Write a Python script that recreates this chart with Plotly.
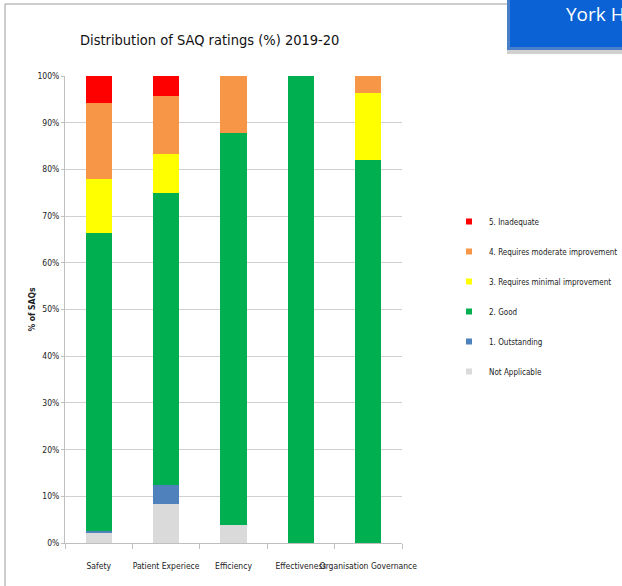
import plotly.graph_objects as go

categories = ["Safety", "Patient Experiece", "Efficiency", "Effectiveness", "Organisation Governance"]
not_applicable = [2.2, 8.3, 3.8, 0, 0]
outstanding = [0.4, 4.2, 0, 0, 0]
good = [63.7, 62.5, 84.1, 100, 82.1]
minimal = [11.7, 8.3, 0, 0, 14.3]
moderate = [16.3, 12.5, 12.1, 0, 3.6]
inadequate = [5.7, 4.2, 0, 0, 0]

series = [
    ("Not Applicable", not_applicable, "#dadada"),
    ("1. Outstanding", outstanding, "#4f81bd"),
    ("2. Good", good, "#00b050"),
    ("3. Requires minimal improvement", minimal, "#ffff00"),
    ("4. Requires moderate improvement", moderate, "#f79646"),
    ("5. Inadequate", inadequate, "#ff0000"),
]
y_ticks = list(range(0, 101, 10))

W, H = 622, 586
L, R, T, B = 65, 220, 76, 43
PW, PH = W - L - R, H - T - B
FONT = "DejaVu Sans Condensed, Liberation Sans Narrow, sans-serif"


def px(x):
    return (x - L) / PW


def py(y):
    return (H - B - y) / PH


fig = go.Figure()
for name, vals, col in series:
    fig.add_trace(go.Bar(x=categories, y=vals, name=name, marker=dict(color=col, line=dict(width=0)),
                         width=0.39, showlegend=False))

# legend entries (top to bottom)
for i, (name, vals, col) in enumerate(reversed(series)):
    fig.add_trace(go.Scatter(x=[None], y=[None], mode="markers", name=name,
                             marker=dict(symbol="square", size=6, color=col),
                             legendgroup=str(i), showlegend=True))

fig.update_layout(
    width=W, height=H, autosize=False,
    margin=dict(l=L, r=R, t=T, b=B, autoexpand=False),
    barmode="stack", bargap=0.61,
    paper_bgcolor="white", plot_bgcolor="white",
    font=dict(family=FONT, size=9, color="#222222"),
    showlegend=True,
    legend=dict(x=px(449), y=py(207), xanchor="left", yanchor="top", traceorder="grouped",
                tracegroupgap=11, itemwidth=30, font=dict(size=8, family=FONT, color="#222222"),
                bgcolor="rgba(0,0,0,0)"),
    xaxis=dict(type="category", tickangle=0, showgrid=False, showline=True, linecolor="#bfbfbf",
               ticks="outside", tickson="boundaries", ticklen=5, tickcolor="#bfbfbf",
               ticklabelstandoff=15,
               tickfont=dict(size=8.5, family=FONT, color="#222222"), range=[-0.5, 4.5]),
    yaxis=dict(range=[0, 100], tickvals=y_ticks, ticktext=[f"{v}%" for v in y_ticks],
               showgrid=True, gridcolor="#d0d0d0", gridwidth=1, showline=True, linecolor="#bfbfbf",
               ticks="outside", ticklen=3, tickcolor="#bfbfbf", zeroline=False,
               tickfont=dict(size=8.5, family=FONT, color="#222222"),
               title=dict(text="<b>% of SAQs</b>", font=dict(size=8.5, family=FONT, color="#222222"),
                          standoff=0)),
    shapes=[
        dict(type="line", xref="paper", yref="paper", x0=px(5), x1=px(5), y0=py(4), y1=py(590),
             line=dict(color="#9a9a9a", width=1)),
        dict(type="line", xref="paper", yref="paper", x0=px(5), x1=px(507), y0=py(4), y1=py(4),
             line=dict(color="#9a9a9a", width=1)),
        dict(type="rect", xref="paper", yref="paper", x0=px(507), x1=px(630), y0=py(50), y1=py(54),
             fillcolor="#d0d0d0", line=dict(width=0)),
        dict(type="rect", xref="paper", yref="paper", x0=px(507), x1=px(630), y0=py(-5), y1=py(50),
             fillcolor="#4a7fc9", line=dict(width=0)),
        dict(type="rect", xref="paper", yref="paper", x0=px(510), x1=px(630), y0=py(-5), y1=py(47),
             fillcolor="#0b62d4", line=dict(width=0)),
    ],
    annotations=[
        dict(text="Distribution of SAQ ratings (%) 2019-20", xref="paper", yref="paper",
             x=px(78), y=py(40), xanchor="left", yanchor="middle", showarrow=False,
             font=dict(size=14.5, family=FONT, color="#111111")),
        dict(text="York Hospital", xref="paper", yref="paper",
             x=px(564), y=py(14), xanchor="left", yanchor="middle", showarrow=False,
             font=dict(size=19, family="Open Sans, DejaVu Sans, sans-serif", color="white")),
    ],
)

fig.write_html(
    "out.html",
    config={"displayModeBar": False},
    post_script="document.body.style.margin='0';document.body.style.overflow='hidden';",
)
